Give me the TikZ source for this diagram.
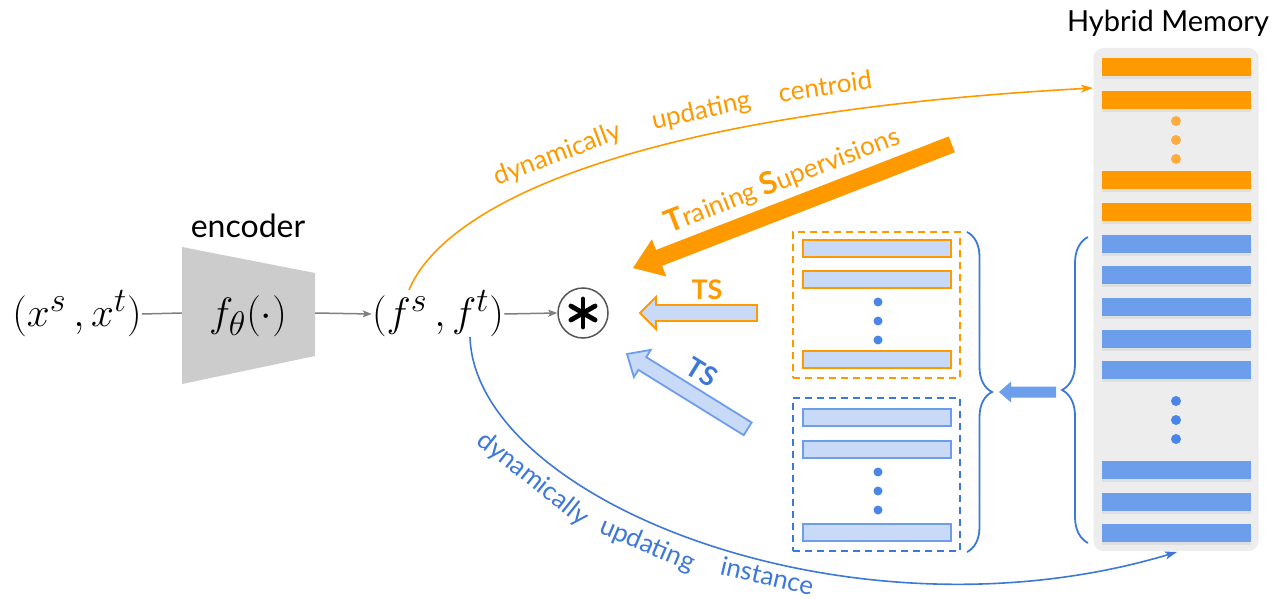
\documentclass[tikz,border=0pt]{standalone}
\usepackage{fontspec}
\setmainfont{Lato}
\usetikzlibrary{arrows.meta,decorations.pathreplacing,shadows}

\definecolor{memorange}{HTML}{FF9900}
\definecolor{memblue}{HTML}{6D9EEB}
\definecolor{deepblue}{HTML}{3C78D8}
\definecolor{paleblue}{HTML}{C9DAF8}
\definecolor{dotblue}{HTML}{4A86E8}
\definecolor{dotorange}{HTML}{FFAB40}
\definecolor{panelgray}{HTML}{EDEDED}
\definecolor{encgray}{HTML}{CCCCCC}
\definecolor{linkgray}{HTML}{7F7F7F}
\definecolor{ringgray}{HTML}{555555}

% block arrow: #1 style, #2 tip point, #3 rotation, #4 length,
% #5 head length, #6 half head width, #7 half shaft width
\newcommand{\blockarrow}[7]{%
  \path[#1,shift={#2},rotate=#3] (0,0) -- (#5,-#6) -- (#5,-#7) -- (#4,-#7)
    -- (#4,#7) -- (#5,#7) -- (#5,#6) -- cycle;}

\begin{document}
\begin{tikzpicture}[x=1pt,y=-1pt,
  every node/.style={inner sep=0pt},
  mathtxt/.style={font=\fontsize{24.88}{26}\selectfont, scale=1.65},
  labeltxt/.style={font=\fontsize{29}{31}\selectfont},
  curvetxt/.style={font=\fontsize{26}{26}\selectfont, sloped, text height=19pt, text depth=5pt},
  graylink/.style={draw=linkgray, line width=1.5pt},
  grayarrow/.style={graylink, -{Stealth[length=9pt,width=7pt,inset=2pt]}},
  ocurve/.style={draw=memorange, line width=1.6pt, -{Stealth[length=12pt,width=8pt,inset=3pt]}},
  bcurve/.style={draw=deepblue, line width=1.6pt, -{Stealth[length=12pt,width=8pt,inset=3pt]}},
  obar/.style={fill=memorange, drop shadow={opacity=0.12, shadow xshift=0pt, shadow yshift=-3pt}},
  bbar/.style={fill=memblue, drop shadow={opacity=0.12, shadow xshift=0pt, shadow yshift=-3pt}},
  oslot/.style={fill=paleblue, draw=memorange, line width=1.8pt},
  bslot/.style={fill=paleblue, draw=memblue, line width=1.8pt},
  obox/.style={draw=memorange, line width=1.8pt, dash pattern=on 7pt off 5pt, minimum width=167pt},
  bbox/.style={draw=deepblue, line width=1.8pt, dash pattern=on 7pt off 5pt, minimum width=167pt},
  bracestyle/.style={draw=deepblue, line width=1.8pt, decorate},
]
\useasboundingbox (0,0) rectangle (1287,599);

% ---------- encoder ----------
\fill[encgray] (182,247) -- (315,273) -- (315,356) -- (182,384) -- cycle;
\coordinate (encin) at (182,313);
\coordinate (encout) at (315,313);
\node[mathtxt] (fth) at (248,316) {$f_\theta(\cdot)$};
\node[font=\fontsize{32}{34}\selectfont, anchor=base] (enclabel) at (248,237) {encoder};

\node[mathtxt] (xin) at (77,314) {$(x^s\,, x^t)$};
\node[mathtxt] (feat) at (438,314) {$(f^s\,, f^t)$};
\node[circle, draw=ringgray, line width=1.5pt, minimum size=50pt] (op) at (583,313) {};
\foreach \dx/\dy in {0/14, 12.1/7, -12.1/7}
  \draw[line width=4.8pt, line cap=round]
    ([shift={(\dx,\dy)}]op.center) -- ([shift={(-\dx,-\dy)}]op.center);

\draw[graylink] (xin.east) -- (encin);
\draw[grayarrow] (encout) -- (feat.west);
\draw[grayarrow] (feat.east) -- (op.west);

% ---------- hybrid memory ----------
\node[fill=panelgray, rounded corners=10pt, minimum width=165pt, minimum height=503pt] (mem) at (1176,299.5) {};
\node[labeltxt, anchor=base] (memlabel) at (1168,32) {Hybrid Memory};
\foreach \y in {58,91,171,203}
  \path[obar] (1102,\y) rectangle ++(149,18);
\foreach \y in {235,266,298,330,361,461,493,524}
  \path[bbar] (1102,\y) rectangle ++(149,18);
\foreach \y in {121,140,159}
  \fill[dotorange] (1176,\y) circle (5);
\foreach \y in {401,420,439}
  \fill[dotblue] (1176,\y) circle (5);

% ---------- sampled subsets ----------
\node[obox, minimum height=146pt] (obox) at (876.5,305) {};
\node[bbox, minimum height=153pt] (bbox) at (876.5,474.5) {};
\foreach \y in {240,271,351}
  \path[oslot] (803,\y) rectangle ++(148,17);
\foreach \y in {409,441,524}
  \path[bslot] (803,\y) rectangle ++(148,17);
\foreach \y in {302,321,340,472,491,510}
  \fill[dotblue] (878,\y) circle (4.5);

% braces and the arrow between them
\draw[bracestyle, decoration={brace, amplitude=25pt}] (967,232) -- (967,552);
\draw[bracestyle, decoration={brace, amplitude=26pt}] (1088,543) -- (1088,237);
\blockarrow{fill=memblue}{(999,392)}{0}{57}{12}{10.5}{5.5}

% ---------- supervision arrows ----------
\blockarrow{fill=memorange}{(633,268)}{21.2}{342}{28}{20}{8.5}
\node[font=\fontsize{26}{26}\selectfont, text=memorange, rotate=21.2] (tslabel) at (782,180)
  {{\fontsize{31}{31}\selectfont\bfseries T}raining {\fontsize{31}{31}\selectfont\bfseries S}upervisions};

\blockarrow{oslot}{(640,313)}{0}{117}{16}{16}{8}
\node[font=\fontsize{27}{27}\selectfont\bfseries, text=memorange] (tsorange) at (707,290) {TS};

\blockarrow{bslot}{(627,354)}{-31.8}{142}{18}{16}{7.5}
\node[font=\fontsize{27}{27}\selectfont\bfseries, text=deepblue, rotate=-31.8] (tsblue) at (702,372) {TS};

% ---------- memory updates ----------
\coordinate (fs) at (409,290);
\coordinate (ft) at (470,337);
\coordinate (memtop) at (1093,88);
\coordinate (membot) at (1177,552);

\draw[ocurve] (fs) .. controls (440,215) and (600,115) .. (memtop)
  node[curvetxt, text=memorange, pos=0.48, above=9pt] (oc1) {dynamically}
  node[curvetxt, text=memorange, pos=0.67, above=11pt] (oc2) {updating}
  node[curvetxt, text=memorange, pos=0.794, above=12pt] (oc3) {centroid};

\draw[bcurve] (ft) .. controls (475,500) and (850,650) .. (membot)
  node[curvetxt, text=deepblue, pos=0.27, below=10pt] (bc1) {dynamically}
  node[curvetxt, text=deepblue, pos=0.44, below=10pt] (bc2) {updating}
  node[curvetxt, text=deepblue, pos=0.58, below=4pt] (bc3) {instance};
\end{tikzpicture}
\end{document}
